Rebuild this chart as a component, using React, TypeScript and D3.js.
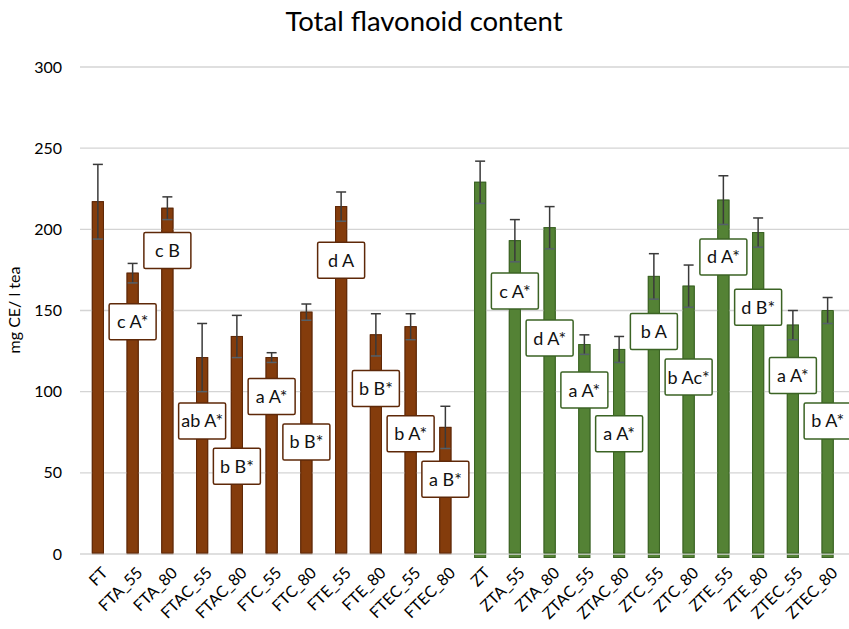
import * as d3 from "d3";

const categories = [
  "FT", "FTA_55", "FTA_80", "FTAC_55", "FTAC_80", "FTC_55", "FTC_80",
  "FTE_55", "FTE_80", "FTEC_55", "FTEC_80",
  "ZT", "ZTA_55", "ZTA_80", "ZTAC_55", "ZTAC_80", "ZTC_55", "ZTC_80",
  "ZTE_55", "ZTE_80", "ZTEC_55", "ZTEC_80",
];
const values = [
  217, 173, 213, 121, 134, 121, 149, 214, 135, 140, 78,
  229, 193, 201, 129, 126, 171, 165, 218, 198, 141, 150,
];
const errors = [
  23, 6, 7, 21, 13, 3, 5, 9, 13, 8, 13,
  13, 13, 13, 6, 8, 14, 13, 15, 9, 9, 8,
];
const letters = [
  "", "c A*", "c B", "ab A*", "b B*", "a A*", "b B*", "d A", "b B*", "b A*", "a B*",
  "", "c A*", "d A*", "a A*", "a A*", "b A", "b Ac*", "d A*", "d B*", "a A*", "b A*",
];
// value at which each letter box is centred
const letterAt = [
  0, 143, 187, 82, 54, 97, 69, 181, 102, 74, 46,
  0, 162, 133, 101, 74, 137, 109, 183, 152, 110, 82,
];
const yTicks = [0, 50, 100, 150, 200, 250, 300];

const W = 849;
const H = 629;
const FONT = "Lato, 'Open Sans', sans-serif";

export default function App() {
  const x = d3
    .scaleBand<string>()
    .domain(categories)
    .range([80.5, 845])
    .paddingInner(0.68)
    .paddingOuter(0.34);
  const y = d3.scaleLinear().domain([0, 300]).range([554, 67]);
  const bw = x.bandwidth();

  const isGreen = (c: string) => c.startsWith("Z");
  const fill = (c: string) => (isGreen(c) ? "#548235" : "#843c0c");
  const edge = (c: string) => (isGreen(c) ? "#3b6324" : "#5e2808");

  return (
    <svg
      width={W}
      height={H}
      style={{ position: "absolute", left: 0, top: 0, background: "#fff" }}
      fontFamily={FONT}
    >
      <text x={424} y={31} textAnchor="middle" fontSize={27.5} fill="#000">
        Total flavonoid content
      </text>

      {/* bars (green ones run a little past zero, as in the original) */}
      {categories.map((c, i) => (
        <rect
          key={c}
          x={x(c)}
          y={y(values[i])}
          width={bw}
          height={y(0) - y(values[i]) + (isGreen(c) ? 3.5 : 0)}
          fill={fill(c)}
          stroke={edge(c)}
          strokeWidth={1}
        />
      ))}

      {/* zero line over the bars, tick labels */}
      {yTicks.map((t) => (
        <g key={t}>
          {t === 0 && (
            <line x1={80} x2={849} y1={y(t)} y2={y(t)} stroke="#d4d4d4" strokeWidth={1.3} />
          )}
          <text
            x={62}
            y={y(t)}
            dy="0.35em"
            textAnchor="end"
            fontSize={16}
            fill="#000"
          >
            {t}
          </text>
        </g>
      ))}
      {/* other grid lines behind bars */}
      {yTicks
        .filter((t) => t > 0)
        .map((t) => (
          <line
            key={"g" + t}
            x1={80}
            x2={849}
            y1={y(t)}
            y2={y(t)}
            stroke="#d4d4d4"
            strokeWidth={1.3}
          />
        ))}
      {categories.map((c, i) => (
        <rect
          key={"b" + c}
          x={x(c)}
          y={y(values[i])}
          width={bw}
          height={y(0) - y(values[i]) - 1}
          fill={fill(c)}
          stroke={edge(c)}
          strokeWidth={1}
        />
      ))}

      {/* error bars */}
      {categories.map((c, i) => {
        const cx = (x(c) ?? 0) + bw / 2;
        const hi = y(values[i] + errors[i]);
        const lo = y(values[i] - errors[i]);
        return (
          <g key={"e" + c} stroke="#3a3a3a" strokeWidth={1.5}>
            <line x1={cx} x2={cx} y1={hi} y2={lo} />
            <line x1={cx - 5} x2={cx + 5} y1={hi} y2={hi} />
            <line x1={cx - 5} x2={cx + 5} y1={lo} y2={lo} stroke="#55606a" />
          </g>
        );
      })}

      {/* letter boxes */}
      {categories.map((c, i) => {
        if (!letters[i]) return null;
        const cx = (x(c) ?? 0) + bw / 2;
        const cy = y(letterAt[i]);
        return (
          <g key={"l" + c}>
            <rect
              x={cx - 23.5}
              y={cy - 18}
              width={47}
              height={36}
              fill="#fff"
              stroke={edge(c)}
              strokeWidth={1.5}
              rx={1.5}
            />
            <text
              x={cx}
              y={cy}
              dy="0.36em"
              textAnchor="middle"
              fontSize={18}
              fill="#111"
            >
              {letters[i]}
            </text>
          </g>
        );
      })}

      {/* x labels */}
      {categories.map((c) => {
        const cx = (x(c) ?? 0) + bw / 2 + 3;
        return (
          <text
            key={"x" + c}
            transform={`translate(${cx},${566}) rotate(-45)`}
            textAnchor="end"
            dy="0.7em"
            fontSize={16}
            fill="#000"
          >
            {c}
          </text>
        );
      })}

      <text
        transform={`translate(20,${310}) rotate(-90)`}
        textAnchor="middle"
        fontSize={16}
        fill="#000"
      >
        mg CE/ l tea
      </text>
    </svg>
  );
}
